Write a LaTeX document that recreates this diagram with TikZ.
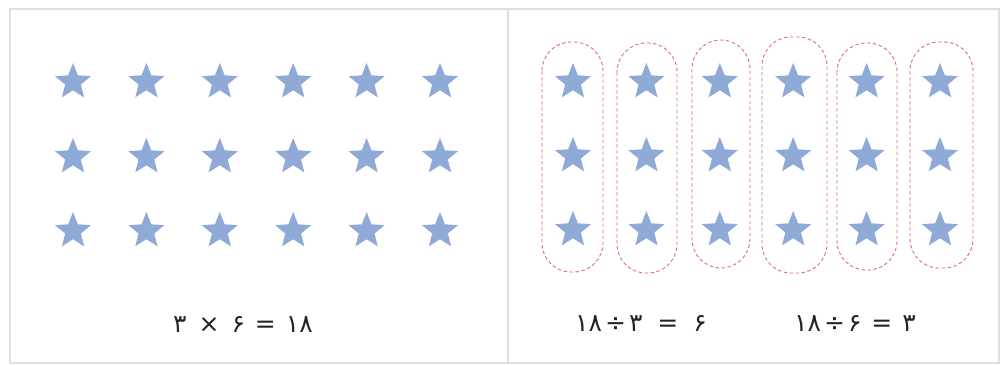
\documentclass[tikz,border=0pt]{standalone}
\usepackage{fontspec}
\newfontfamily\fafont{DejaVu Sans}
\usetikzlibrary{shapes.geometric}
\definecolor{starblue}{RGB}{143,170,214}
\definecolor{framegray}{RGB}{226,221,224}
\definecolor{ovalred}{RGB}{228,105,128}
\definecolor{textgray}{RGB}{35,35,35}
\tikzset{
  starnode/.style={star, star points=5, star point ratio=2.3, minimum size=38pt, inner sep=0pt, fill=starblue, draw=none},
  groupoval/.style={draw=ovalred, line width=0.9pt, dash pattern=on 3.5pt off 2.5pt, rounded corners=29pt, inner sep=0pt},
  eqtext/.style={font=\fafont\fontsize{25}{28}\selectfont, text=textgray, inner sep=0pt},
  panel/.style={draw=framegray, line width=1.8pt}
}
\begin{document}
\begin{tikzpicture}[x=1pt,y=-1pt]
\useasboundingbox (0,0) rectangle (1003,364);
% frame
\draw[panel] (10,9) rectangle (999,363);
\coordinate (divtop) at (508,9);
\coordinate (divbot) at (508,363);
\draw[panel] (divtop) -- (divbot);
% left stars
\foreach \r/\y in {1/82,2/157,3/231}{
  \foreach \c in {1,...,6}{
    \node[starnode] (L\r\c) at ({73+73.4*(\c-1)},\y) {};
  }
}
% right ovals
\foreach \c/\x/\w/\ya/\yb in {1/572.5/61/42/272, 2/647/60/43/273, 3/721/58/40/268, 4/794.5/65/37/273, 5/867/60/43/270, 6/941.5/63/42/268}{
  \path[groupoval] ({\x-\w/2},\ya) rectangle ({\x+\w/2},\yb);
  \coordinate (O\c) at (\x,{(\ya+\yb)/2});
}
% right stars
\foreach \r/\y in {1/82,2/156,3/230}{
  \foreach \c in {1,...,6}{
    \node[starnode] (R\r\c) at ({573+73.4*(\c-1)},\y) {};
  }
}
% equations (written left to right, as printed)
\node[eqtext] (eqL) at (243,324) {۳\hspace{12pt}×\hspace{12pt}۶\hspace{10pt}=\hspace{10pt}۱۸};
\node[eqtext] (eqR1) at (641,323) {۱۸\hspace{3pt}÷\hspace{3pt}۳\hspace{15pt}=\hspace{15pt}۶};
\node[eqtext] (eqR2) at (855,323) {۱۸\hspace{3pt}÷\hspace{3pt}۶\hspace{10pt}=\hspace{10pt}۳};
\end{tikzpicture}
\end{document}
